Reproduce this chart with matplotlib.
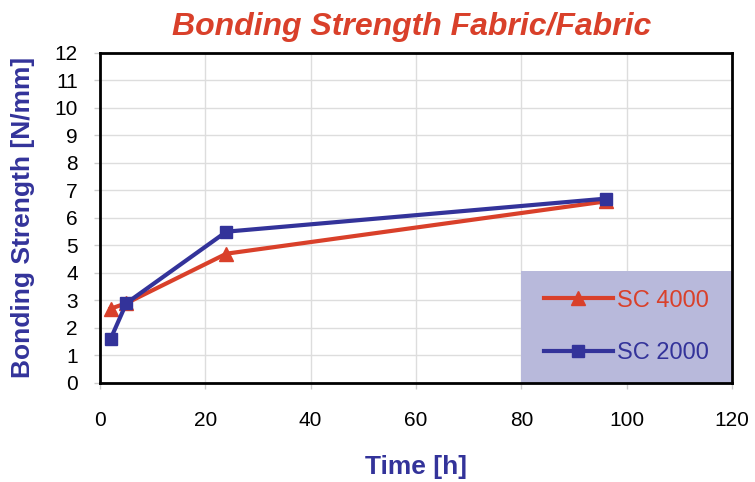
import matplotlib.pyplot as plt
from matplotlib.patches import Rectangle

time_h = [2, 5, 24, 96]
sc4000 = [2.7, 2.9, 4.7, 6.6]
sc2000 = [1.6, 2.9, 5.5, 6.7]

red = "#D9402A"
blue = "#33339A"
font = ["Liberation Sans", "DejaVu Sans"]

fig = plt.figure(figsize=(7.55, 4.82), dpi=100)
ax = fig.add_axes([0.1325, 0.2054, 0.837, 0.685])

ax.plot(time_h, sc4000, color=red, lw=3, marker="^", ms=10, label="SC 4000", zorder=3)
ax.plot(time_h, sc2000, color=blue, lw=3, marker="s", ms=9, label="SC 2000", zorder=3)

ax.set_xlim(0, 120)
ax.set_ylim(0, 12)
ax.set_xticks(range(0, 121, 20))
ax.set_yticks(range(0, 13))
ax.grid(True, color="#dddddd", lw=1)
ax.set_axisbelow(True)
for s in ax.spines.values():
    s.set_linewidth(2)
    s.set_zorder(5)
ax.tick_params(length=4, color="#cccccc", width=1, labelsize=15)
for lab in ax.get_xticklabels() + ax.get_yticklabels():
    lab.set_family(font)
ax.tick_params(axis="x", pad=16)
ax.tick_params(axis="y", pad=12)

ax.set_xlabel("Time [h]", fontsize=19, fontweight="bold", color=blue,
              family=font, labelpad=18)
ax.set_ylabel("Bonding Strength [N/mm]", fontsize=19, fontweight="bold",
              color=blue, family=font, labelpad=14)
fig.suptitle("Bonding Strength Fabric/Fabric", x=0.545, y=0.975, fontsize=23,
             fontweight="bold", style="italic", color=red, family=font)

# legend background block in the lower right corner
ax.add_patch(Rectangle((2 / 3, 0), 1 / 3, 0.34, transform=ax.transAxes,
                       facecolor="#B8B9DB", edgecolor="none", zorder=2))
leg = ax.legend(loc="center", bbox_to_anchor=(5 / 6, 0.17), frameon=False,
                prop={"family": font, "size": 17}, handlelength=2.9,
                labelspacing=1.3, handletextpad=0.2)
leg.set_zorder(4)
for txt, c in zip(leg.get_texts(), [red, blue]):
    txt.set_color(c)

fig.savefig("out.png", dpi=100)
